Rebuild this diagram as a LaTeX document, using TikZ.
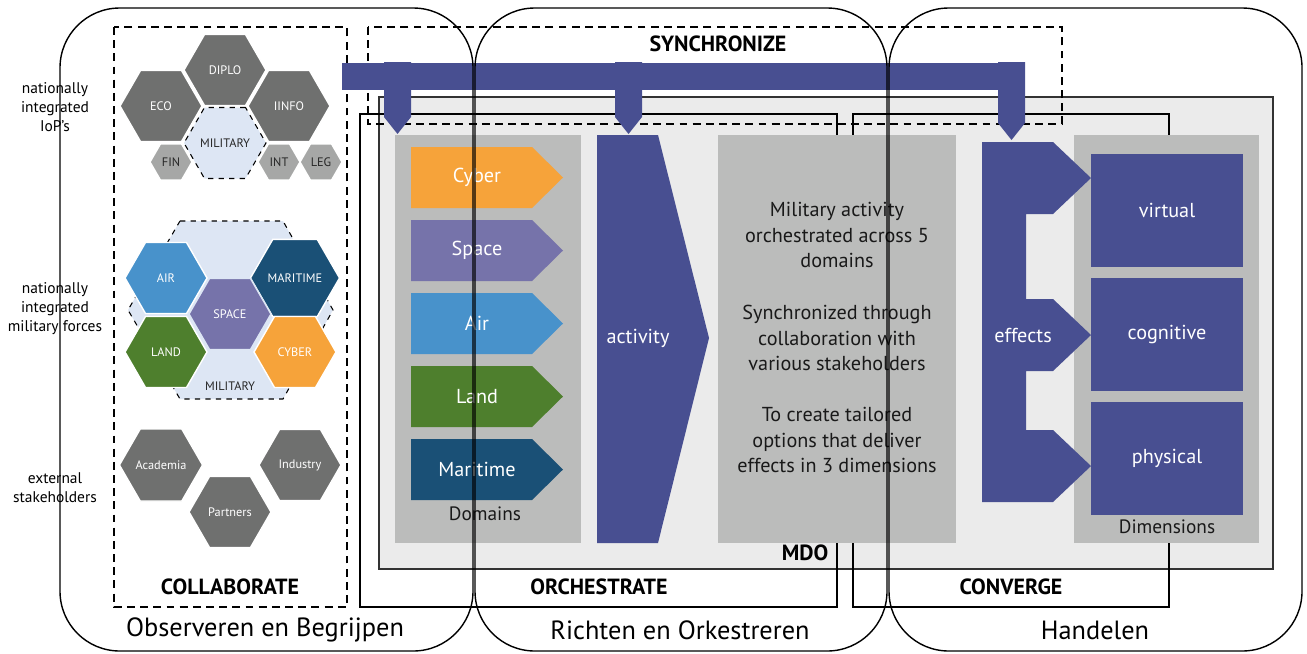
\documentclass[tikz,border=0pt]{standalone}
\usepackage{fontspec}
\setmainfont{PT Sans}
\usetikzlibrary{shapes.geometric}

\definecolor{mdoblue}{HTML}{484F91}
\definecolor{panelgray}{HTML}{BBBCBB}
\definecolor{mdogray}{HTML}{EBEBEB}
\definecolor{hexdark}{HTML}{6F706F}
\definecolor{hexlight}{HTML}{A6A7A6}
\definecolor{milblue}{HTML}{DDE6F4}
\definecolor{cybercol}{HTML}{F6A33A}
\definecolor{spacecol}{HTML}{7673AA}
\definecolor{aircol}{HTML}{4892CB}
\definecolor{landcol}{HTML}{4E7F2D}
\definecolor{marcol}{HTML}{1A5076}

\tikzset{
  lane/.style={draw=black, line width=0.8pt, rounded corners=34pt},
  lanetitle/.style={font=\fontsize{15}{17}\selectfont},
  hexa/.style={regular polygon, regular polygon sides=6, minimum size=1.64cm, inner sep=0pt,
    draw=white, line width=0.8pt, fill=hexdark, text=white, font=\fontsize{7}{8}\selectfont},
  smallhexa/.style={hexa, minimum size=0.84cm, fill=hexlight, text=black!85},
  dashbox/.style={dashed, dash pattern=on 4.5pt off 3pt, line width=0.7pt},
  boxtitle/.style={font=\bfseries\fontsize{12.5}{14}\selectfont},
  whitelabel/.style={text=white, font=\fontsize{11.5}{14}\selectfont},
  darklabel/.style={text=black!90, font=\fontsize{11}{13}\selectfont},
  bodytext/.style={align=center, text=black!90, font=\fontsize{11.5}{14.3}\selectfont},
  sidelabel/.style={align=center, font=\fontsize{8.8}{10.8}\selectfont},
}

\begin{document}
\begin{tikzpicture}[x=0.02cm, y=-0.02cm]
  \useasboundingbox (0,0) rectangle (1307,653);

  % MDO area and the process boxes
  \draw[fill=mdogray, draw=black!80, line width=0.6pt] (379,97) rectangle (1273,569);
  \node[boxtitle] (mdo) at (805,553) {MDO};
  \draw[line width=0.6pt] (360,114) rectangle (837,607);
  \node[boxtitle] (orchestrate) at (599,587) {ORCHESTRATE};
  \draw[line width=0.6pt] (853,114) rectangle (1169,607);
  \node[boxtitle] (converge) at (1011,587) {CONVERGE};
  \draw[dashbox] (114,27) rectangle (347,607);
  \node[boxtitle] (collaborate) at (230,587) {COLLABORATE};
  \draw[dashbox] (368,27) rectangle (1062,124);
  \node[boxtitle] (synchronize) at (718,44) {SYNCHRONIZE};

  % Gray panels
  \fill[panelgray] (395,135) rectangle (581,543);
  \node[darklabel] (domains) at (485,514) {Domains};
  \fill[panelgray] (718,135) rectangle (956,543);
  \fill[panelgray] (1074,135) rectangle (1259,543);
  \node[darklabel] (dimensions) at (1167,527) {Dimensions};

  % Domain arrows
  \foreach \ya/\col/\name/\txt in {147/cybercol/cyber/Cyber, 220/spacecol/space/Space,
      293/aircol/air/Air, 366/landcol/land/Land, 439/marcol/maritime/Maritime} {
    \fill[\col] (411,\ya) -- (532,\ya) -- (563,\ya+30.5) -- (532,\ya+61) -- (411,\ya+61) -- cycle;
    \node[whitelabel] (\name) at (477,\ya+30.5) {\txt};
  }

  % Activity arrow
  \fill[mdoblue] (597,135) -- (658,135) -- (709,338) -- (658,543) -- (597,543) -- cycle;
  \node[whitelabel] (activity) at (638,338) {activity};

  % Text in the middle panel
  \node[bodytext] (orchtext) at (837,235) {Military activity\\orchestrated across 5\\domains};
  \node[bodytext] (synctext) at (837,338) {Synchronized through\\collaboration with\\various stakeholders};
  \node[bodytext] (opttext) at (837,440) {To create tailored\\options that deliver\\effects in 3 dimensions};

  % Effects arrow
  \fill[mdoblue] (982,142) -- (1053,142) -- (1091,178) -- (1053,214) -- (1026,214)
    -- (1026,299) -- (1053,299) -- (1091,335) -- (1053,371) -- (1026,371)
    -- (1026,430) -- (1053,430) -- (1091,466) -- (1053,502) -- (982,502) -- cycle;
  \node[whitelabel] (effects) at (1023,335) {effects};

  % Dimension boxes
  \foreach \ya/\name in {154/virtual, 278/cognitive, 402/physical} {
    \fill[mdoblue] (1091,\ya) rectangle (1243,\ya+113);
    \node[whitelabel] (\name) at (1167,\ya+56.5) {\name};
  }

  % Synchronize arrow
  \fill[mdoblue] (342,63) rectangle (1025,90);
  \foreach \xa/\tip in {384/134, 615/134, 998/140} {
    \fill[mdoblue] (\xa,62) -- (\xa+27,62) -- (\xa+27,\tip-17) -- (\xa+13.5,\tip)
      -- (\xa,\tip-17) -- cycle;
  }

  % Instruments of power
  \node[hexa] (diplo) at (225,70) {DIPLO};
  \node[hexa] (eco) at (161,106) {ECO};
  \node[hexa] (iinfo) at (289,106) {IINFO};
  \node[smallhexa] (fin) at (171,162) {FIN};
  \node[smallhexa] (int) at (279,162) {INT};
  \node[smallhexa] (leg) at (321,162) {LEG};
  \node[hexa, fill=milblue, draw=black, dashed, line width=0.6pt, text=black!85] (milhex) at (225,143) {MILITARY};

  % Military forces
  \draw[fill=milblue, dashed, line width=0.6pt] (180,221) -- (283,221) -- (333,310) -- (283,399)
    -- (180,399) -- (128,310) -- cycle;
  \node[hexa, fill=aircol] (airhex) at (166,278) {AIR};
  \node[hexa, fill=marcol] (marhex) at (295,278) {MARITIME};
  \node[hexa, fill=landcol] (landhex) at (166,352) {LAND};
  \node[hexa, fill=cybercol] (cyberhex) at (295,352) {CYBER};
  \node[hexa, fill=spacecol, draw=milblue] (spacehex) at (230,314) {SPACE};
  \node[text=black!85, font=\fontsize{7}{8}\selectfont] (milforces) at (230,386) {MILITARY};

  % External stakeholders
  \node[hexa] (academia) at (161,465) {Academia};
  \node[hexa] (industry) at (300,465) {Industry};
  \node[hexa] (partners) at (230,512) {Partners};

  % Row labels
  \node[sidelabel] (iops) at (55,107) {nationally\\integrated\\IoP’s};
  \node[sidelabel] (forces) at (55,309) {nationally\\integrated\\military forces};
  \node[sidelabel] (external) at (55,488) {external\\stakeholders};

  % Lanes
  \draw[lane] (60,8) rectangle (473,651);
  \draw[lane] (475,8) rectangle (887,651);
  \draw[lane] (889,8) rectangle (1302,651);
  \node[lanetitle] (observe) at (265,630) {Observeren en Begrijpen};
  \node[lanetitle] (orient) at (680,630) {Richten en Orkestreren};
  \node[lanetitle] (act) at (1095,630) {Handelen};
\end{tikzpicture}
\end{document}
